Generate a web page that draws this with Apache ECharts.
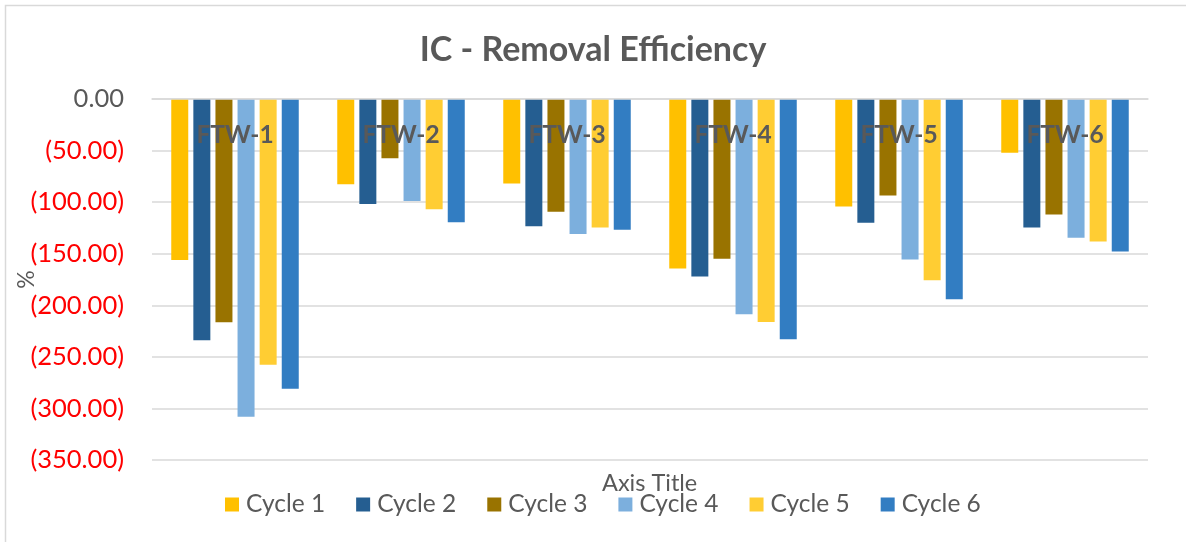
<!DOCTYPE html>
<html>
<head>
<meta charset="utf-8">
<script src="https://cdn.jsdelivr.net/npm/echarts@6/dist/echarts.min.js"></script>
<style>
html,body{margin:0;padding:0;background:#fff;}
#chart{width:1186px;height:542px;}
</style>
</head>
<body>
<div id="chart"></div>
<script>
var categories = ['FTW-1','FTW-2','FTW-3','FTW-4','FTW-5','FTW-6'];
var seriesNames = ['Cycle 1','Cycle 2','Cycle 3','Cycle 4','Cycle 5','Cycle 6'];
var cycle1 = [-156, -82.7, -82, -164.3, -104.3, -52];
var cycle2 = [-234, -101.7, -123.3, -172, -120.1, -124.6];
var cycle3 = [-216.5, -57.5, -109.4, -154.9, -93.6, -112];
var cycle4 = [-308, -98.8, -131, -208.7, -155.5, -134.6];
var cycle5 = [-257.7, -107, -124.6, -216.2, -175.8, -138.1];
var cycle6 = [-281, -119.4, -126.8, -232.9, -194.2, -147.8];
var yTickValues = [0, -50, -100, -150, -200, -250, -300, -350];
var colors = ['#FFC000','#255E91','#997300','#7CAFDD','#FFCD33','#327DC2'];

var allData = [cycle1, cycle2, cycle3, cycle4, cycle5, cycle6];
var FONT = 'Lato, "Noto Sans", sans-serif';

var chart = echarts.init(document.getElementById('chart'), null, {renderer:'canvas'});
var option = {
  backgroundColor: '#ffffff',
  color: colors,
  animation: false,
  title: [
    {
      text: 'IC - Removal Efficiency',
      left: 'center',
      top: 28,
      textStyle: {fontFamily: FONT, fontSize: 34, fontWeight: 'bold', color: '#595959'}
    },
    {
      text: 'Axis Title',
      left: 597,
      top: 466,
      textStyle: {fontFamily: FONT, fontSize: 23.5, fontWeight: 'normal', color: '#595959'}
    }
  ],
  graphic: [
    {type: 'polyline', shape: {points: [[5.5, 542], [5.5, 5.5], [1186, 5.5]]}, style: {stroke: '#d9d9d9', lineWidth: 1.5, fill: null}, silent: true}
  ],
  legend: {
    left: 220,
    top: 487,
    itemWidth: 14,
    itemHeight: 14,
    itemGap: 31,
    icon: 'rect',
    data: seriesNames,
    textStyle: {fontFamily: FONT, fontSize: 24.5, color: '#595959', padding: [0,0,0,2]}
  },
  grid: {left: 152, right: 38, top: 99, bottom: 82, containLabel: false, outerBoundsMode: 'none'},
  xAxis: {
    type: 'category',
    data: categories,
    position: 'top',
    axisLine: {show: true, onZero: false, lineStyle: {color: '#d9d9d9', width: 1.5}},
    axisTick: {show: false},
    axisLabel: {
      inside: true,
      margin: 24,
      fontFamily: FONT,
      fontSize: 24.5,
      fontWeight: 'bold',
      color: '#595959'
    },
    zlevel: 1,
    z: 10
  },
  yAxis: {
    type: 'value',
    min: yTickValues[yTickValues.length - 1],
    max: yTickValues[0],
    interval: 50,
    name: '%',
    nameLocation: 'middle',
    nameGap: 114,
    nameRotate: 90,
    nameMoveOverlap: false,
    nameTextStyle: {fontFamily: FONT, fontSize: 23, color: '#595959'},
    axisLine: {show: false},
    axisTick: {show: false},
    splitLine: {lineStyle: {color: '#d9d9d9', width: 1.5}},
    axisLabel: {
      margin: 28,
      fontFamily: FONT,
      fontSize: 25.5,
      formatter: function (v) {
        if (v < 0) return '{neg|(' + Math.abs(v).toFixed(2) + ')}';
        return '{pos|' + v.toFixed(2) + '}';
      },
      rich: {
        neg: {color: '#ff0000', fontFamily: FONT, fontSize: 25.5},
        pos: {color: '#595959', fontFamily: FONT, fontSize: 25.5}
      }
    }
  },
  series: seriesNames.map(function (name, i) {
    return {
      name: name,
      type: 'bar',
      data: allData[i],
      barWidth: 17,
      barGap: '30%',
      itemStyle: {color: colors[i]}
    };
  })
};
chart.setOption(option);
</script>
</body>
</html>
